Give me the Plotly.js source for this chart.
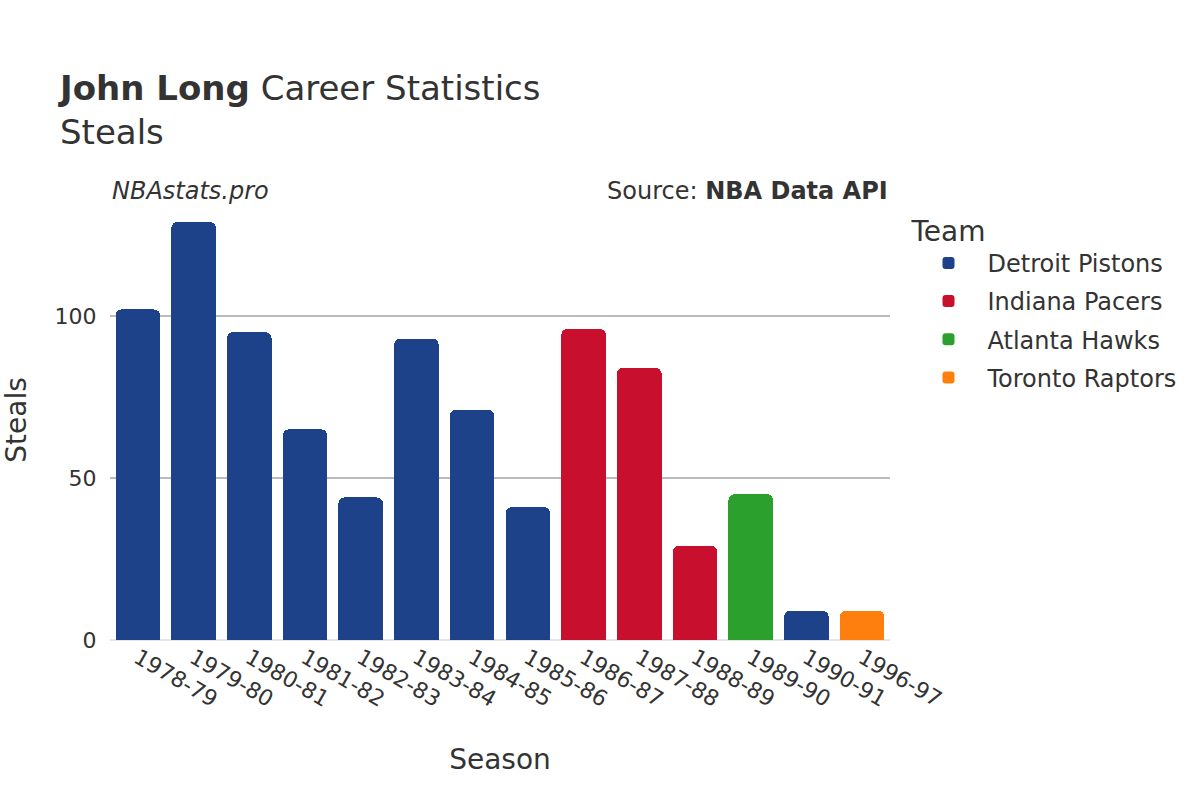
<!DOCTYPE html>
<html>
<head>
<meta charset="utf-8">
<script src="https://cdn.plot.ly/plotly-3.0.1.min.js"></script>
<style>
  body { margin: 0; background: #fff; }
  #chart { width: 1200px; height: 800px; }
</style>
</head>
<body>
<div id="chart"></div>
<script>
const seasons = ['1978-79', '1979-80', '1980-81', '1981-82', '1982-83', '1983-84', '1984-85',
  '1985-86', '1986-87', '1987-88', '1988-89', '1989-90', '1990-91', '1996-97'];
const teams = ['Detroit Pistons', 'Detroit Pistons', 'Detroit Pistons', 'Detroit Pistons',
  'Detroit Pistons', 'Detroit Pistons', 'Detroit Pistons', 'Detroit Pistons',
  'Indiana Pacers', 'Indiana Pacers', 'Indiana Pacers', 'Atlanta Hawks',
  'Detroit Pistons', 'Toronto Raptors'];
const steals = [102, 129, 95, 65, 44, 93, 71, 41, 96, 84, 29, 45, 9, 9];

const teamOrder = ['Detroit Pistons', 'Indiana Pacers', 'Atlanta Hawks', 'Toronto Raptors'];
const teamColors = ['#1d428a', '#c8102e', '#2ca02c', '#ff7f0e'];

// one trace per team so the legend lists each team once
const traces = teamOrder.map((team, i) => {
  const idx = teams.map((t, j) => t === team ? j : -1).filter(j => j >= 0);
  return {
    type: 'bar',
    name: team,
    legendgroup: team,
    x: idx.map(j => seasons[j]),
    y: idx.map(j => steals[j]),
    marker: { color: teamColors[i], cornerradius: 6 },
    hovertemplate: '%{x}: %{y}<extra>' + team + '</extra>'
  };
});

const font = 'DejaVu Sans, Verdana, sans-serif';

const layout = {
  width: 1200,
  height: 800,
  font: { family: font, color: '#333333' },
  paper_bgcolor: '#ffffff',
  plot_bgcolor: '#ffffff',
  barmode: 'stack',
  bargap: 0.2,
  margin: { t: 200, b: 160, l: 110, r: 310 },
  title: {
    text: '<b>John Long</b> Career Statistics<br>Steals',
    font: { size: 34, color: '#333333' },
    x: 0.05,
    xanchor: 'left',
    y: 0.875,
    yanchor: 'top'
  },
  xaxis: {
    title: { text: 'Season', font: { size: 28 }, standoff: 38 },
    type: 'category',
    categoryorder: 'array',
    categoryarray: seasons,
    tickangle: 30,
    tickfont: { size: 22 },
    showgrid: false,
    ticks: ''
  },
  yaxis: {
    title: { text: 'Steals', font: { size: 28 }, standoff: 30 },
    tickfont: { size: 22 },
    tickvals: [0, 50, 100],
    gridcolor: '#bbbbbb',
    gridwidth: 1.5,
    zeroline: true,
    zerolinecolor: '#e6e6e6',
    zerolinewidth: 2,
    ticks: 'outside',
    ticklen: 8,
    tickcolor: '#ffffff'
  },
  legend: {
    title: { text: 'Team', font: { size: 28 } },
    font: { size: 24 },
    traceorder: 'grouped',
    tracegroupgap: 4,
    itemwidth: 68,
    x: 1.025,
    y: 0.99,
    xanchor: 'left',
    yanchor: 'top'
  },
  annotations: [
    {
      text: '<i>NBAstats.pro</i>',
      xref: 'paper', yref: 'paper',
      x: 0, y: 0.984,
      xanchor: 'left', yanchor: 'bottom',
      showarrow: false,
      font: { size: 24, color: '#333333' }
    },
    {
      text: 'Source: <b>NBA Data API</b>',
      xref: 'paper', yref: 'paper',
      x: 1, y: 0.984,
      xanchor: 'right', yanchor: 'bottom',
      showarrow: false,
      font: { size: 24, color: '#333333' }
    }
  ]
};

Plotly.newPlot('chart', traces, layout, { displayModeBar: false });
</script>
</body>
</html>
